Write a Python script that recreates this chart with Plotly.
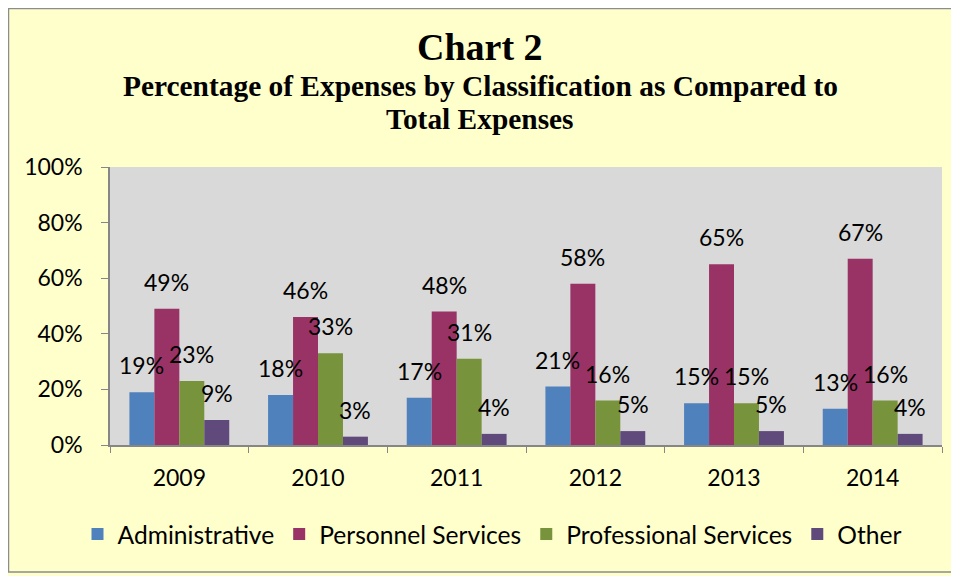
import plotly.graph_objects as go

years = ["2009", "2010", "2011", "2012", "2013", "2014"]
series_names = ["Administrative", "Personnel Services", "Professional Services", "Other"]
administrative = [19, 18, 17, 21, 15, 13]
personnel = [49, 46, 48, 58, 65, 67]
professional = [23, 33, 31, 16, 15, 16]
other = [9, 3, 4, 5, 5, 4]
y_ticks = [0, 20, 40, 60, 80, 100]
y_tick_labels = ["0%", "20%", "40%", "60%", "80%", "100%"]

colors = ["#4F81BD", "#993366", "#77933C", "#604A7B"]
all_series = [administrative, personnel, professional, other]

FONT = "Lato"
# plot area in figure px (page has an 8px body margin)
L, R, T, B = 102, 25, 159, 139
PW = 959 - L - R
PH = 576 - T - B

fig = go.Figure()
for name, vals, col in zip(series_names, all_series, colors):
    fig.add_trace(go.Bar(x=years, y=vals, name=name, marker=dict(color=col, line=dict(width=0))))

bargap = 0.28
n = len(all_series)
w = (1 - bargap) / n
annotations = []
for i, vals in enumerate(all_series):
    off = -(1 - bargap) / 2 + w * (i + 0.5)
    for j, v in enumerate(vals):
        annotations.append(dict(x=j + off, y=v, xref="x", yref="y", text=f"{v}%",
                                showarrow=False, yshift=27,
                                font=dict(family=FONT, size=23, color="black")))

cx = (480 - 8 - L) / PW


def title_line(text, screen_y, size):
    return dict(x=cx, y=1.0, xref="paper", yref="paper", yanchor="middle", xanchor="center",
                text=text, showarrow=False, yshift=(T + PH) - (screen_y - 8) - PH,
                font=dict(family="Liberation Serif", size=size, color="black"))


annotations += [
    title_line("<b>Chart 2</b>", 47, 38),
    title_line("<b>Percentage of Expenses by Classification as Compared to</b>", 86, 29.4),
    title_line("<b>Total Expenses</b>", 119, 29.4),
]

fig.update_layout(
    width=959, height=576,
    barmode="group", bargap=bargap, bargroupgap=0,
    paper_bgcolor="#FFFFCC", plot_bgcolor="#D9D9D9",
    margin=dict(l=L, r=R, t=T, b=B),
    showlegend=True,
    legend=dict(orientation="h", x=(492 - 8 - L) / PW, xanchor="center", y=-89 / PH, yanchor="middle",
                font=dict(family=FONT, size=24.6, color="black"), bgcolor="rgba(0,0,0,0)",
                itemwidth=30, tracegroupgap=0),
    annotations=annotations,
    shapes=[dict(type="rect", xref="paper", yref="paper",
                 x0=0.5 / PW - L / PW, x1=1 + (952 - 8 - L - PW) / PW,
                 y0=-(572 - 8 - T - PH) / PH, y1=1 + (T - 0.5) / PH,
                 line=dict(color="#8C8C8C", width=1.5), fillcolor="rgba(0,0,0,0)", layer="below")],
    font=dict(family=FONT, size=23, color="black"),
)
fig.update_yaxes(range=[0, 100], tickvals=y_ticks, ticktext=y_tick_labels, showgrid=False,
                 showline=True, linecolor="#868686", linewidth=1.5, ticks="outside", ticklen=7,
                 tickcolor="#868686", zeroline=False, tickfont=dict(family=FONT, size=23),
                 ticklabelstandoff=14)
fig.update_xaxes(showgrid=False, showline=True, linecolor="#868686", linewidth=1.5,
                 ticks="outside", tickson="boundaries", ticklen=6, tickcolor="#868686",
                 mirror=False, tickfont=dict(family=FONT, size=23), ticklabelstandoff=12)

fig.write_html("out.html")
